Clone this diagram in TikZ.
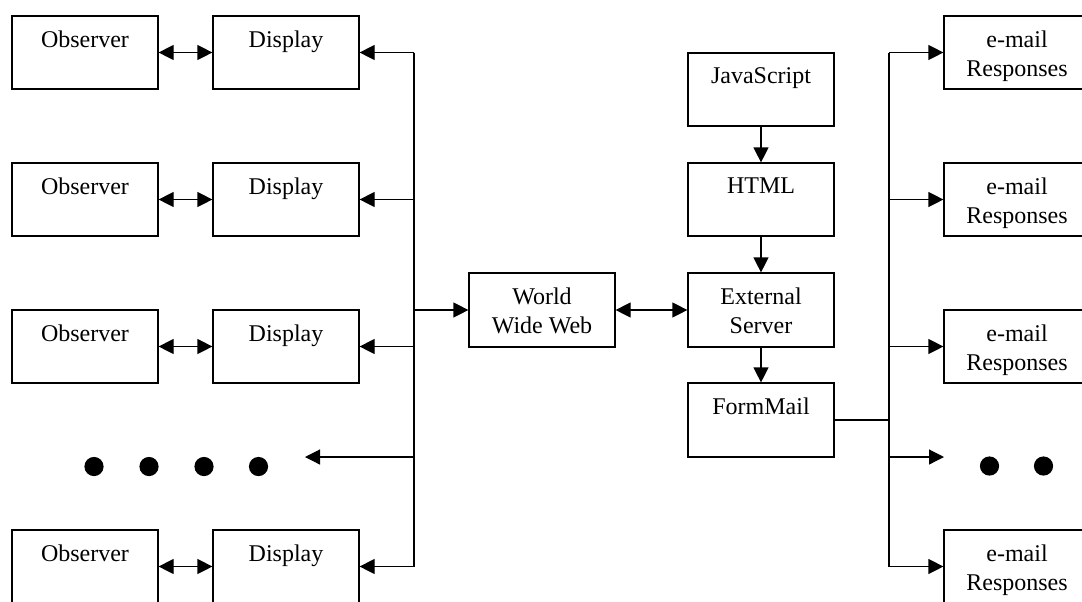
\documentclass[tikz,border=0pt]{standalone}
\usepackage{fontspec}
\setmainfont{Liberation Serif}
\usetikzlibrary{arrows.meta}
\begin{document}
\begin{tikzpicture}[x=0.5pt,y=-0.5pt,
  box/.style={draw, line width=0.6pt, minimum width=73pt, minimum height=36.5pt, inner sep=0pt},
  txt/.style={anchor=north, align=center, inner sep=0pt, font=\fontsize{12}{14.2}\selectfont},
  link/.style={line width=0.6pt},
  tip/.style={-{Triangle[length=7.5pt,width=7.5pt]}},
  both/.style={{Triangle[length=7.5pt,width=7.5pt]}-{Triangle[length=7.5pt,width=7.5pt]}},
  dot/.style={circle, fill, inner sep=0pt, minimum size=9.6pt}]

\useasboundingbox (0,0) rectangle (1082,601);

% observers and displays
\foreach \i/\y in {1/52.5, 2/199.5, 3/346.5, 5/566.5} {
  \node[box] (obs\i) at (85,\y) {};
  \node[txt] (obs\i t) at ([yshift=-7.6pt]obs\i.north) {Observer};
  \node[box] (disp\i) at (286,\y) {};
  \node[txt] (disp\i t) at ([yshift=-7.6pt]disp\i.north) {Display};
  \coordinate (lbus\i) at (414,\y);
  \draw[link,both] (obs\i) -- (disp\i);
  \draw[link,tip] (lbus\i) -- (disp\i);
}

% ellipsis on the observer side
\foreach \k/\x in {1/94, 2/149, 3/204, 4/258.5}
  \node[dot] (ldot\k) at (\x,466.5) {};
\coordinate (lbusd) at (414,457);
\coordinate (ldots) at (305,457);
\draw[link,tip] (lbusd) -- (ldots);

% web and server chain
\node[box, minimum height=37pt] (www) at (542,310) {};
\node[txt] (wwwt) at ([yshift=-7.6pt]www.north) {World\\Wide Web};
\node[box] (js) at (761,89.5) {};
\node[txt] (jst) at ([yshift=-7.6pt]js.north) {JavaScript};
\node[box] (html) at (761,199.5) {};
\node[txt] (htmlt) at ([yshift=-7.6pt]html.north) {HTML};
\node[box, minimum height=37pt] (ext) at (761,310) {};
\node[txt] (extt) at ([yshift=-7.6pt]ext.north) {External\\Server};
\node[box, minimum height=37pt] (fm) at (761,420) {};
\node[txt] (fmt) at ([yshift=-7.6pt]fm.north) {FormMail};

\coordinate (lbusw) at (414,310);
\draw[link] (lbus1) -- (lbus5);
\draw[link,tip] (lbusw) -- (www);
\draw[link,both] (www) -- (ext);
\draw[link,tip] (js) -- (html);
\draw[link,tip] (html) -- (ext);
\draw[link,tip] (ext) -- (fm);

% e-mail responses
\coordinate (rbusf) at (889,420);
\draw[link] (fm) -- (rbusf);
\foreach \i/\y in {1/52.5, 2/199.5, 3/346.5, 5/566.5} {
  \node[box] (mail\i) at (1017,\y) {};
  \node[txt] (mail\i t) at ([yshift=-7.6pt]mail\i.north) {e-mail\\Responses};
  \coordinate (rbus\i) at (889,\y);
  \draw[link,tip] (rbus\i) -- (mail\i);
}
\draw[link] (rbus1) -- (rbus5);
\foreach \k/\x in {1/989.5, 2/1043.5}
  \node[dot] (rdot\k) at (\x,466) {};
\coordinate (rbusd) at (889,457);
\coordinate (rdots) at (944,457);
\draw[link,tip] (rbusd) -- (rdots);
\end{tikzpicture}
\end{document}
